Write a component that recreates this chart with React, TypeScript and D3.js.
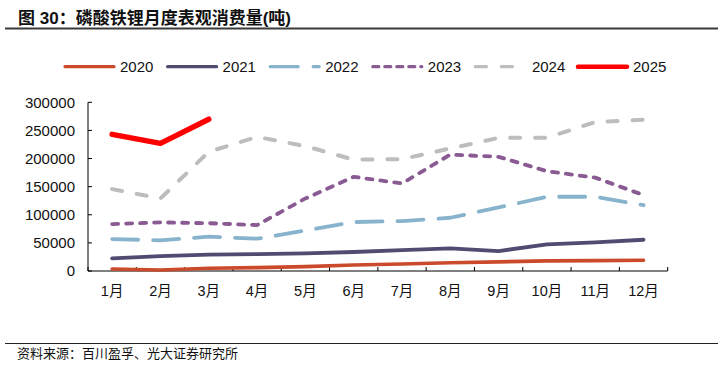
import React from "react";
import * as d3 from "d3";

const months = ["1月", "2月", "3月", "4月", "5月", "6月", "7月", "8月", "9月", "10月", "11月", "12月"];
const yTicks = [0, 50000, 100000, 150000, 200000, 250000, 300000];
const years = ["2020", "2021", "2022", "2023", "2024", "2025"];

const v2020 = [3500, 1800, 4800, 6000, 7800, 10600, 12400, 14800, 16300, 18000, 18500, 19000];
const v2021 = [22500, 26500, 29000, 30000, 31500, 33800, 37300, 40300, 35500, 47400, 51000, 55600];
const v2022 = [56800, 54500, 61000, 57400, 72000, 87000, 88800, 94700, 113000, 132000, 132000, 117000];
const v2023 = [83500, 86500, 85000, 81700, 129000, 167500, 155700, 207000, 203000, 177500, 166000, 135000];
const v2024 = [145600, 129000, 212000, 238500, 222000, 198000, 199000, 218000, 236700, 237000, 265000, 269000];
const v2025 = [243000, 227000, 270000];

const seriesValues = [v2020, v2021, v2022, v2023, v2024, v2025];

const styles = [
  { color: "#CB4A2B", width: 3.6, dash: null, cap: "round" },
  { color: "#504B70", width: 3.8, dash: null, cap: "round" },
  { color: "#88B3CC", width: 3.8, dash: "26,15", cap: "round" },
  { color: "#8A5A92", width: 3.8, dash: "6,8", cap: "round" },
  { color: "#BDBDBD", width: 4, dash: "10,15", cap: "round" },
  { color: "#FF0000", width: 5.5, dash: null, cap: "round" },
];

const FONT = '"Liberation Sans", Arial, "Noto Sans CJK SC", sans-serif';

export default function App() {
  const left = 88, right = 667.7, top = 102.3, bottom = 271;
  const x = d3.scaleBand<string>().domain(months).range([left, right]);
  const y = d3.scaleLinear().domain([0, 300000]).range([bottom, top]);
  const line = d3
    .line<number>()
    .x((_, i) => (x(months[i]) as number) + x.bandwidth() / 2)
    .y((d) => y(d));

  const legendX0 = 63.5;
  const legendStep = 102.6;

  return (
    <svg width={724} height={373} style={{ position: "absolute", left: 0, top: 0, background: "#fff" }}>
      <text x={18} y={24} fontFamily={FONT} fontSize={17} fontWeight="bold" fill="#111">
        图 30：磷酸铁锂月度表观消费量(吨)
      </text>
      <line x1={5} x2={718} y1={28.5} y2={28.5} stroke="#3a3a3a" strokeWidth={2} />

      {/* legend */}
      {years.map((yr, i) => {
        const s = styles[i];
        const lx = legendX0 + i * legendStep;
        return (
          <g key={yr}>
            <line
              x1={lx + 1.5}
              x2={lx + 50.5}
              y1={66.7}
              y2={66.7}
              stroke={s.color}
              strokeWidth={i === 5 ? 4.5 : 3.2}
              strokeDasharray={i === 2 ? "28,15" : i === 3 ? "6,6" : i === 4 ? "11,15" : undefined}
              strokeLinecap="round"
            />
            <text x={i === 4 ? lx + 58 : lx + 56.5} y={72} fontFamily={FONT} fontSize={15} fill="#111">
              {yr}
            </text>
          </g>
        );
      })}

      {/* axes */}
      <line x1={left} x2={left} y1={top} y2={bottom} stroke="#000" strokeWidth={1} />
      <line x1={left} x2={right} y1={bottom} y2={bottom} stroke="#000" strokeWidth={1} />
      {yTicks.map((t) => (
        <g key={t}>
          <line x1={left} x2={left + 4} y1={y(t)} y2={y(t)} stroke="#000" />
          <text x={75} y={y(t) + 5.3} textAnchor="end" fontFamily={FONT} fontSize={15} fill="#111">
            {t}
          </text>
        </g>
      ))}
      {months.map((m, i) => {
        const tx = left + i * x.bandwidth();
        return <line key={"t" + m} x1={tx} x2={tx} y1={bottom} y2={bottom - 4} stroke="#000" />;
      })}
      <line x1={right} x2={right} y1={bottom} y2={bottom - 4} stroke="#000" />
      {months.map((m) => (
        <text
          key={m}
          x={(x(m) as number) + x.bandwidth() / 2}
          y={296}
          textAnchor="middle"
          fontFamily={FONT}
          fontSize={14.5}
          fill="#111"
        >
          {m}
        </text>
      ))}

      {/* series */}
      {seriesValues.map((vals, i) => {
        const s = styles[i];
        return (
          <path
            key={years[i]}
            d={line(vals) || ""}
            fill="none"
            stroke={s.color}
            strokeWidth={s.width}
            strokeDasharray={s.dash || undefined}
            strokeLinecap={s.cap as any}
            strokeLinejoin="round"
          />
        );
      })}

      <line x1={5} x2={718} y1={343.5} y2={343.5} stroke="#222" strokeWidth={1.2} />
      <text x={17} y={358} fontFamily={FONT} fontSize={13} fill="#111">
        资料来源：百川盈孚、光大证券研究所
      </text>
    </svg>
  );
}
